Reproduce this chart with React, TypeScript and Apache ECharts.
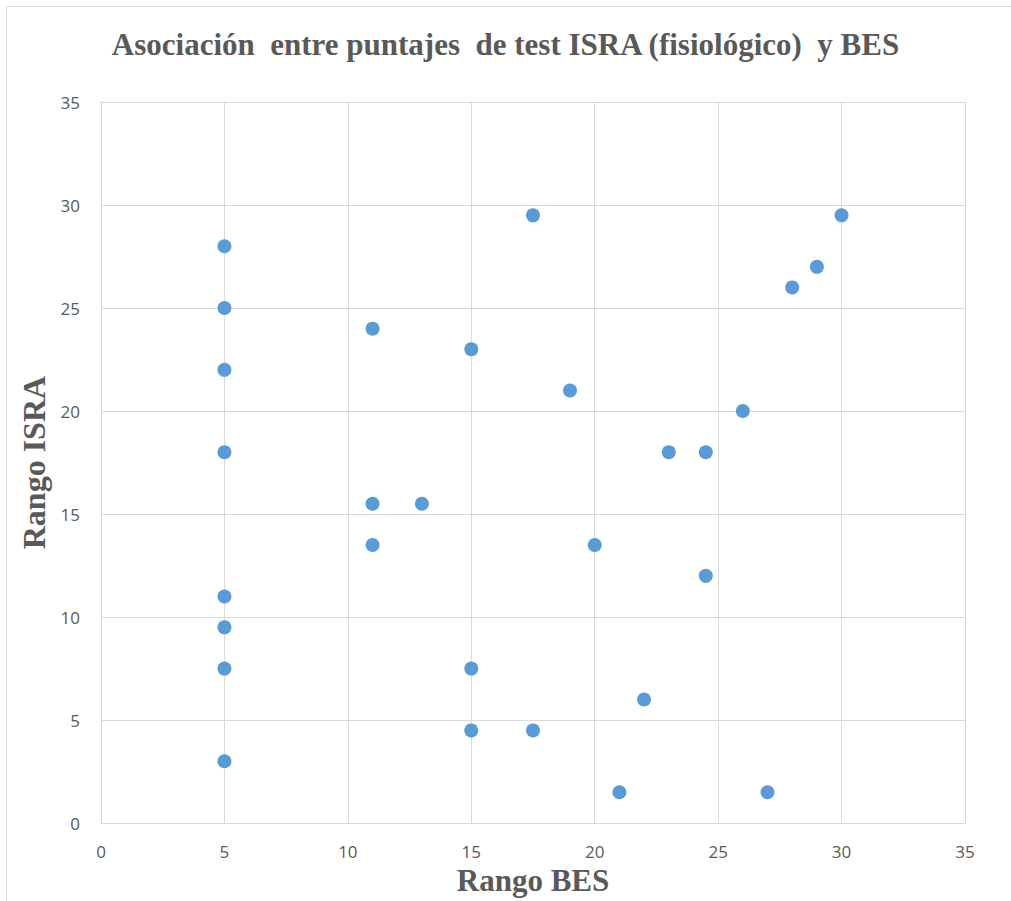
import React, { useEffect, useRef } from "react";
import * as echarts from "echarts";

const titleText = "Asociación  entre puntajes  de test ISRA (fisiológico)  y BES";
const xAxisName = "Rango BES";
const yAxisName = "Rango ISRA";

const besValues = [5, 5, 5, 5, 5, 5, 5, 5, 11, 11, 11, 13, 15, 15, 15, 17.5, 17.5, 19, 20, 21, 22, 23, 24.5, 24.5, 26, 27, 28, 29, 30];
const israValues = [28, 25, 22, 18, 11, 9.5, 7.5, 3, 24, 15.5, 13.5, 15.5, 23, 7.5, 4.5, 29.5, 4.5, 21, 13.5, 1.5, 6, 18, 18, 12, 20, 1.5, 26, 27, 29.5];

const axisMin = 0;
const axisMax = 35;
const axisStep = 5;

export default function App() {
  const ref = useRef<HTMLDivElement>(null);
  useEffect(() => {
    if (!ref.current) return;
    const chart = echarts.init(ref.current, null, { renderer: "svg" });
    const data = besValues.map((x, i) => [x, israValues[i]]);
    const serif = "'Liberation Serif', 'Times New Roman', serif";
    const sans = "'Open Sans', 'Noto Sans', sans-serif";
    chart.setOption({
      animation: false,
      backgroundColor: "#ffffff",
      title: {
        text: titleText,
        left: "center",
        top: 29,
        padding: [0, 0, 0, 19],
        textStyle: { fontFamily: serif, fontWeight: "bold", fontSize: 31, color: "#595959" },
      },
      graphic: [
        { type: "line", shape: { x1: 6.5, y1: 6.5, x2: 1011, y2: 6.5 }, style: { stroke: "#d9d9d9", lineWidth: 1 } },
        { type: "line", shape: { x1: 6.5, y1: 6.5, x2: 6.5, y2: 901 }, style: { stroke: "#d9d9d9", lineWidth: 1 } },
      ],
      grid: { left: 101, right: 46, top: 102, bottom: 69, containLabel: false },
      xAxis: {
        type: "value",
        min: axisMin,
        max: axisMax,
        interval: axisStep,
        name: xAxisName,
        nameLocation: "middle",
        nameGap: 36,
        nameTextStyle: { fontFamily: serif, fontWeight: "bold", fontSize: 31, color: "#595959" },
        axisLine: { show: true, lineStyle: { color: "#d9d9d9", width: 1 } },
        axisTick: { show: false },
        axisLabel: { fontFamily: sans, fontSize: 17, color: "#595959", margin: 20 },
        splitLine: { show: true, lineStyle: { color: "#d9d9d9", width: 1 } },
      },
      yAxis: {
        type: "value",
        min: axisMin,
        max: axisMax,
        interval: axisStep,
        name: yAxisName,
        nameLocation: "middle",
        nameGap: 45,
        nameTextStyle: { fontFamily: serif, fontWeight: "bold", fontSize: 32, color: "#595959" },
        axisLine: { show: true, lineStyle: { color: "#d9d9d9", width: 1 } },
        axisTick: { show: false },
        axisLabel: { fontFamily: sans, fontSize: 17, color: "#595959", margin: 21 },
        splitLine: { show: true, lineStyle: { color: "#d9d9d9", width: 1 } },
      },
      series: [
        {
          type: "scatter",
          data,
          symbol: "circle",
          symbolSize: 14,
          itemStyle: { color: "#5b9bd5", opacity: 1 },
        },
      ],
    });
    return () => chart.dispose();
  }, []);
  return (
    <div
      ref={ref}
      style={{ position: "absolute", left: 0, top: 0, width: 1011, height: 901 }}
    />
  );
}
